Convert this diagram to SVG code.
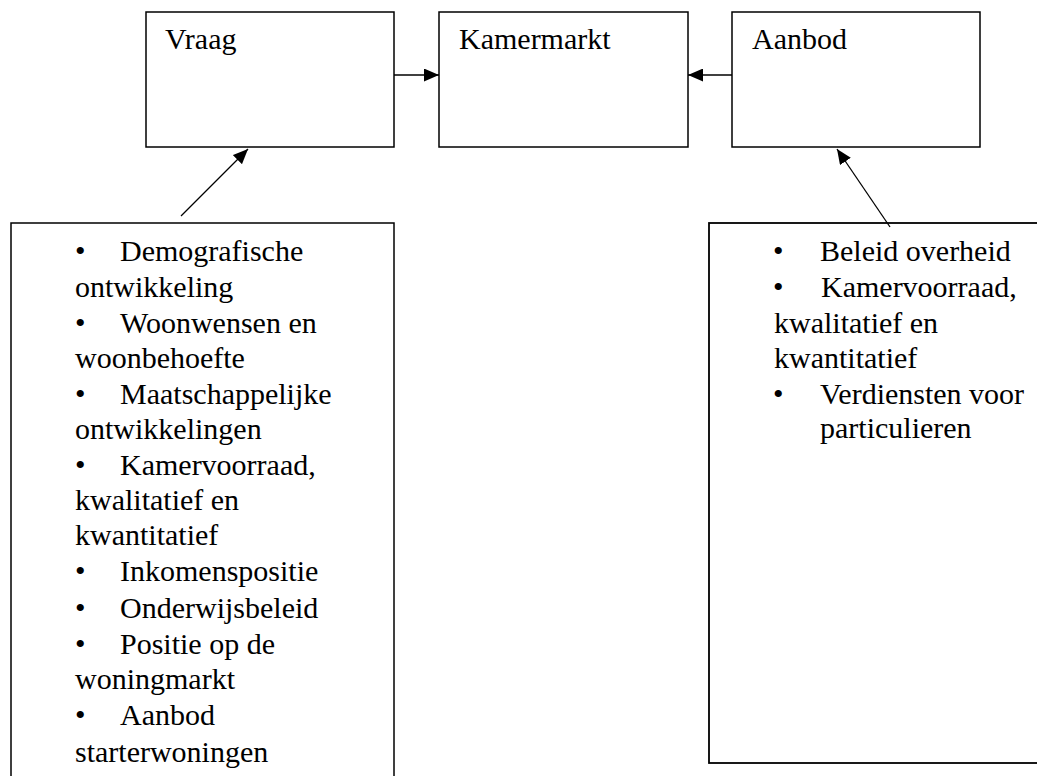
<svg xmlns="http://www.w3.org/2000/svg" width="1037" height="776" viewBox="0 0 1037 776">
<style>
.box{fill:#fff;stroke:#000;stroke-width:1.5}
.t{font-family:'Liberation Serif','DejaVu Serif',serif;font-size:30px;fill:#000}
.c{stroke:#000;stroke-width:1.3;fill:none}
</style>
<defs>
<marker id="ah" viewBox="0 0 15 13" refX="15" refY="6.5" markerWidth="15" markerHeight="13" markerUnits="userSpaceOnUse" orient="auto">
<path d="M0,0 L15,6.5 L0,13 z" fill="#000"/>
</marker>
</defs>
<rect width="1037" height="776" fill="#fff"/>
<g id="vraag">
<rect class="box" x="146" y="12" width="248" height="135"/>
<text class="t" x="165" y="49">Vraag</text>
</g>
<g id="kamermarkt">
<rect class="box" x="439" y="12" width="249" height="135"/>
<text class="t" x="459" y="49">Kamermarkt</text>
</g>
<g id="aanbod">
<rect class="box" x="732" y="12" width="248" height="135"/>
<text class="t" x="752" y="49">Aanbod</text>
</g>
<g id="vraag-factoren">
<rect class="box" x="11" y="223" width="383" height="600"/>
<text class="t" x="75" y="261">•</text><text class="t" x="120" y="261">Demografische</text>
<text class="t" x="75" y="297">ontwikkeling</text>
<text class="t" x="75" y="333">•</text><text class="t" x="120" y="333">Woonwensen en</text>
<text class="t" x="75" y="368">woonbehoefte</text>
<text class="t" x="75" y="404">•</text><text class="t" x="120" y="404">Maatschappelijke</text>
<text class="t" x="75" y="439">ontwikkelingen</text>
<text class="t" x="75" y="475">•</text><text class="t" x="120" y="475">Kamervoorraad,</text>
<text class="t" x="75" y="510">kwalitatief en</text>
<text class="t" x="75" y="545">kwantitatief</text>
<text class="t" x="75" y="581">•</text><text class="t" x="120" y="581">Inkomenspositie</text>
<text class="t" x="75" y="618">•</text><text class="t" x="120" y="618">Onderwijsbeleid</text>
<text class="t" x="75" y="654">•</text><text class="t" x="120" y="654">Positie op de</text>
<text class="t" x="75" y="689">woningmarkt</text>
<text class="t" x="75" y="725">•</text><text class="t" x="120" y="725">Aanbod</text>
<text class="t" x="75" y="762">starterwoningen</text>
</g>
<g id="aanbod-factoren">
<rect class="box" x="709" y="223" width="400" height="540" style="stroke-width:1.8"/>
<text class="t" x="773" y="261">•</text><text class="t" x="820" y="261">Beleid overheid</text>
<text class="t" x="773" y="297">•</text><text class="t" x="821" y="297">Kamervoorraad,</text>
<text class="t" x="774" y="333">kwalitatief en</text>
<text class="t" x="774" y="368">kwantitatief</text>
<text class="t" x="773" y="404">•</text><text class="t" x="820" y="404">Verdiensten voor</text>
<text class="t" x="820" y="438">particulieren</text>
</g>
<g id="connectors">
<line class="c" x1="394" y1="75" x2="439" y2="75" marker-end="url(#ah)"/>
<line class="c" x1="732" y1="75" x2="688" y2="75" marker-end="url(#ah)"/>
<line class="c" x1="181" y1="216" x2="248" y2="149" marker-end="url(#ah)"/>
<line class="c" x1="890" y1="227" x2="837" y2="149" marker-end="url(#ah)"/>
</g>
</svg>
